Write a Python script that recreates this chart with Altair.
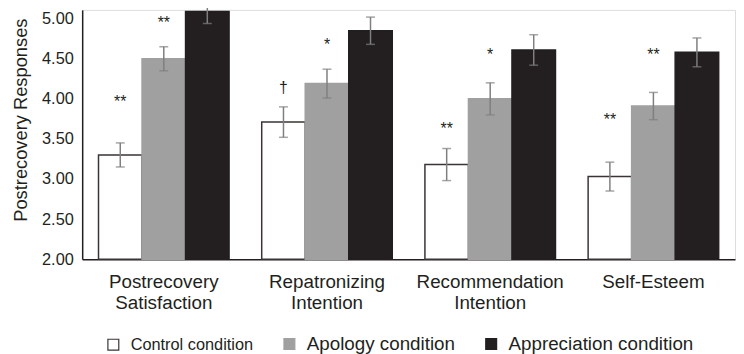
import altair as alt
import pandas as pd

categories = ["Postrecovery|Satisfaction", "Repatronizing|Intention", "Recommendation|Intention", "Self-Esteem"]
conditions = ["Control condition", "Apology condition", "Appreciation condition"]

control = [3.30, 3.71, 3.18, 3.03]
control_err = [0.15, 0.19, 0.20, 0.18]
apology = [4.50, 4.19, 4.00, 3.91]
apology_err = [0.15, 0.18, 0.20, 0.17]
appreciation = [5.09, 4.85, 4.61, 4.58]
appreciation_err = [0.15, 0.17, 0.19, 0.18]

sig_control = ["**", "\u2020", "**", "**"]
sig_control_y = [4.01, 4.19, 3.67, 3.78]
sig_apology = ["**", "*", "*", "**"]
sig_apology_y = [4.99, 4.72, 4.59, 4.59]

rows = []
for i, c in enumerate(categories):
    for cond, vals, errs in [(conditions[0], control, control_err),
                             (conditions[1], apology, apology_err),
                             (conditions[2], appreciation, appreciation_err)]:
        rows.append({"category": c, "condition": cond, "value": vals[i],
                     "lo": vals[i] - errs[i], "hi": vals[i] + errs[i]})
df = pd.DataFrame(rows)

sig_rows = []
for i, c in enumerate(categories):
    sig_rows.append({"category": c, "condition": conditions[0], "text": sig_control[i], "y": sig_control_y[i]})
    sig_rows.append({"category": c, "condition": conditions[1], "text": sig_apology[i], "y": sig_apology_y[i]})
sig_df = pd.DataFrame(sig_rows)

FONT = "Liberation Sans"
INK = "#231f20"

x_enc = alt.X("category:N", sort=categories,
              scale=alt.Scale(paddingInner=0.2, paddingOuter=0.1),
              axis=alt.Axis(title=None, labelAngle=0, ticks=False, labelFontSize=19,
                            labelLineHeight=21, labelPadding=14, labelColor=INK,
                            domainColor=INK, domainWidth=1.5, labelFont=FONT,
                            labelExpr="split(datum.label, '|')"))
xo_enc = alt.XOffset("condition:N", sort=conditions,
                     scale=alt.Scale(paddingInner=0, paddingOuter=0))
y_scale = alt.Scale(domain=[2, 5.11], nice=False, zero=False)

bars = alt.Chart(df).mark_bar(strokeWidth=1.5).encode(
    x=x_enc,
    xOffset=xo_enc,
    y=alt.Y("value:Q", scale=y_scale,
            axis=alt.Axis(values=[2, 2.5, 3, 3.5, 4, 4.5, 5], format=".2f",
                          title="Postrecovery Responses", ticks=False, grid=False,
                          domainColor=INK, domainWidth=1.5, labelFontSize=16.5,
                          titleFontSize=18.5, titleFontWeight="normal", labelColor=INK,
                          titleColor=INK, labelPadding=9, titlePadding=11,
                          titleY=111,
                          labelFont=FONT, titleFont=FONT)),
    y2=alt.datum(2),
    color=alt.Color("condition:N", sort=conditions,
                    scale=alt.Scale(domain=conditions, range=["#ffffff", "#a0a0a0", INK]),
                    legend=alt.Legend(title=None, orient="none", legendX=22, legendY=328,
                                      direction="horizontal", symbolType="square",
                                      symbolSize=121,
                                      labelFontSize=alt.ExprRef("datum.label == 'Control condition' ? 16.5 : 19"),
                                      labelFont=FONT,
                                      labelColor=INK, labelOffset=8, columnPadding=27,
                                      labelLimit=400,
                                      symbolStrokeWidth=1.2, padding=0)),
    stroke=alt.Stroke("condition:N", sort=conditions,
                      scale=alt.Scale(domain=conditions, range=["#3a3434", "#a0a0a0", INK]),
                      legend=None),
)

rules = alt.Chart(df).mark_rule(color="#7f7f7f", strokeWidth=1.5).encode(
    x=x_enc, xOffset=xo_enc,
    y=alt.Y("lo:Q", scale=y_scale), y2="hi:Q")
ticks_lo = alt.Chart(df).mark_tick(color="#7f7f7f", size=9, thickness=1.5).encode(
    x=x_enc, xOffset=xo_enc, y=alt.Y("lo:Q", scale=y_scale))
ticks_hi = alt.Chart(df).mark_tick(color="#7f7f7f", size=9, thickness=1.5).encode(
    x=x_enc, xOffset=xo_enc, y=alt.Y("hi:Q", scale=y_scale))

sig = alt.Chart(sig_df).mark_text(fontSize=16, font=FONT, color=INK, baseline="middle", dy=4).encode(
    x=x_enc, xOffset=xo_enc, y=alt.Y("y:Q", scale=y_scale), text="text:N")

chart = alt.layer(bars, rules, ticks_lo, ticks_hi, sig).properties(
    width=660, height=252,
    padding={"left": 75, "top": 0, "right": 1, "bottom": 94},
    autosize=alt.AutoSizeParams(type="none"),
).configure_view(stroke=None).configure(background="white")

chart.save("out.html", embed_options={"renderer": "svg", "actions": False})
